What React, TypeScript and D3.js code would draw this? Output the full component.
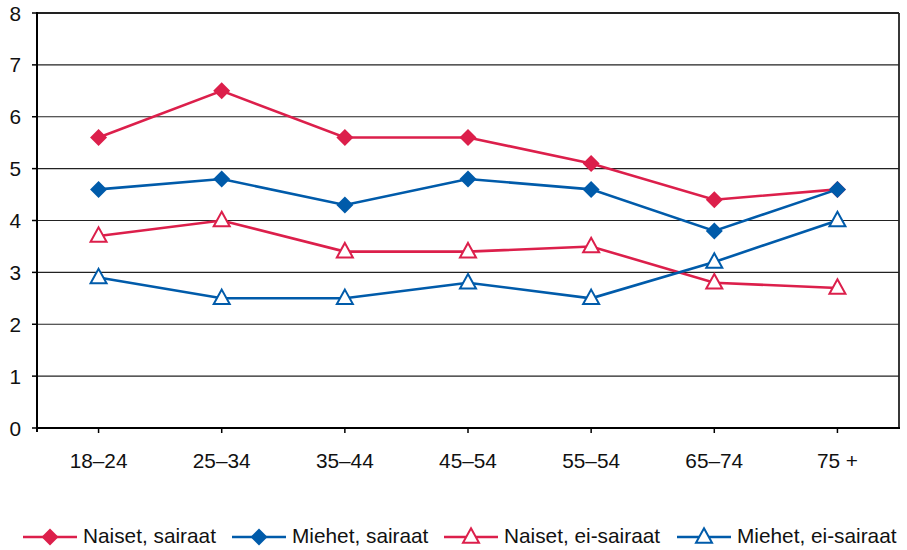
import React from "react";
import * as d3 from "d3";

const categories = ["18–24", "25–34", "35–44", "45–54", "55–54", "65–74", "75 +"];
const naisetSairaat = [5.6, 6.5, 5.6, 5.6, 5.1, 4.4, 4.6];
const miehetSairaat = [4.6, 4.8, 4.3, 4.8, 4.6, 3.8, 4.6];
const naisetEiSairaat = [3.7, 4.0, 3.4, 3.4, 3.5, 2.8, 2.7];
const miehetEiSairaat = [2.9, 2.5, 2.5, 2.8, 2.5, 3.2, 4.0];
const yTicks = [0, 1, 2, 3, 4, 5, 6, 7, 8];

const RED = "#DC1F4B";
const BLUE = "#005BAA";

const seriesList = [
  { name: "Naiset, sairaat", values: naisetSairaat, color: RED, marker: "diamond" },
  { name: "Miehet, sairaat", values: miehetSairaat, color: BLUE, marker: "diamond" },
  { name: "Naiset, ei-sairaat", values: naisetEiSairaat, color: RED, marker: "triangle" },
  { name: "Miehet, ei-sairaat", values: miehetEiSairaat, color: BLUE, marker: "triangle" },
];

const legendX = [23, 232, 444, 677];

const FONT = "'Liberation Sans', Arial, sans-serif";
const FS = 20.8;

function Marker({ type, x, y, color }: { type: string; x: number; y: number; color: string }) {
  if (type === "diamond") {
    const r = 8.5;
    return (
      <path
        d={`M${x},${y - r}L${x + r},${y}L${x},${y + r}L${x - r},${y}Z`}
        fill={color}
      />
    );
  }
  const h = 14.5;
  const w = 16;
  return (
    <path
      d={`M${x},${y - h * 0.6}L${x + w / 2},${y + h * 0.4}L${x - w / 2},${y + h * 0.4}Z`}
      fill="#fff"
      stroke={color}
      strokeWidth={2}
      strokeLinejoin="miter"
    />
  );
}

export default function App() {
  const W = 907;
  const H = 550;
  const left = 37;
  const right = 899;
  const top = 13;
  const bottom = 428;

  const x = d3.scaleBand<string>().domain(categories).range([left, right]).padding(0);
  const y = d3.scaleLinear().domain([0, 8]).range([bottom, top]);
  const cx = (c: string) => (x(c) as number) + x.bandwidth() / 2;

  const line = d3
    .line<number>()
    .x((_, i) => cx(categories[i]))
    .y((d) => y(d));

  return (
    <svg
      width={W}
      height={H}
      style={{ position: "absolute", left: 0, top: 0, display: "block", background: "#fff" }}
      fontFamily={FONT}
    >
      {yTicks.filter((t) => t > 0).map((t) => (
        <line key={t} x1={left} x2={right} y1={y(t)} y2={y(t)} stroke="#222" strokeWidth={t === 8 ? 1.8 : 1.2} />
      ))}
      <line x1={right} x2={right} y1={top} y2={bottom} stroke="#222" strokeWidth={1.8} />
      {yTicks.map((t) => (
        <g key={t}>
          <line x1={left - 5} x2={left} y1={y(t)} y2={y(t)} stroke="#000" strokeWidth={1.5} />
          <text x={21} y={y(t)} textAnchor="end" dominantBaseline="central" fontSize={FS} fill="#111">
            {t}
          </text>
        </g>
      ))}
      {categories.map((c) => (
        <g key={c}>
          <line x1={cx(c)} x2={cx(c)} y1={bottom} y2={bottom + 5} stroke="#000" strokeWidth={1.5} />
          <text x={cx(c)} y={468} textAnchor="middle" fontSize={FS} fill="#111">
            {c}
          </text>
        </g>
      ))}
      <line x1={left} x2={left} y1={top - 1} y2={bottom + 4} stroke="#000" strokeWidth={2} />
      <line x1={left} x2={right + 1} y1={bottom} y2={bottom} stroke="#000" strokeWidth={2} />
      {seriesList.map((s) => (
        <g key={s.name}>
          <path d={line(s.values) || ""} fill="none" stroke={s.color} strokeWidth={2.6} />
          {s.values.map((v, i) => (
            <Marker key={i} type={s.marker} x={cx(categories[i])} y={y(v)} color={s.color} />
          ))}
        </g>
      ))}
      {seriesList.map((s, i) => {
        const lx = legendX[i];
        const ly = 537;
        return (
          <g key={s.name}>
            <line x1={lx} x2={lx + 54} y1={ly} y2={ly} stroke={s.color} strokeWidth={2.6} />
            <Marker type={s.marker} x={lx + 27} y={ly} color={s.color} />
            <text x={lx + 60} y={543} fontSize={FS} fill="#111">
              {s.name}
            </text>
          </g>
        );
      })}
    </svg>
  );
}
